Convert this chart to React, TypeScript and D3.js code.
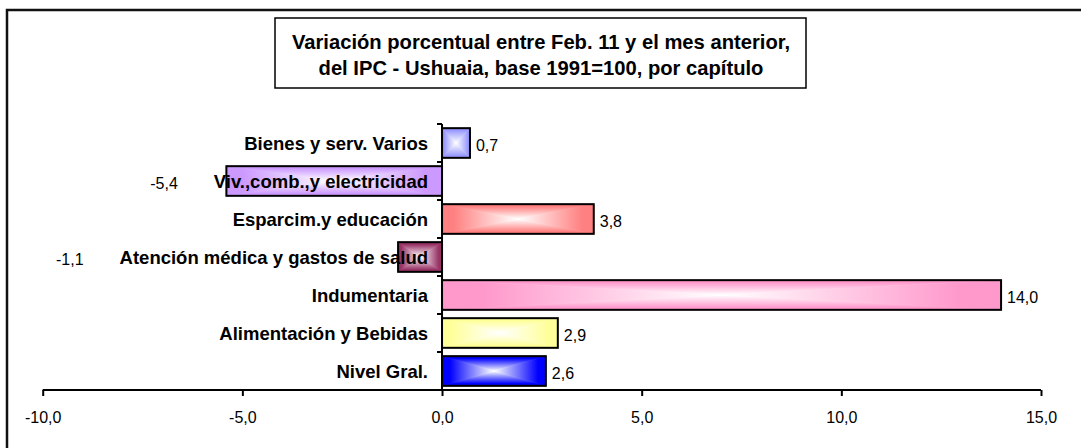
import React, { useRef, useEffect } from 'react';
import * as d3 from 'd3';

// datos del gráfico (de arriba hacia abajo)
const categories = [
  'Bienes y serv. Varios',
  'Viv.,comb.,y electricidad',
  'Esparcim.y educación',
  'Atención médica y gastos de salud',
  'Indumentaria',
  'Alimentación y Bebidas',
  'Nivel Gral.',
];
const values = [0.7, -5.4, 3.8, -1.1, 14.0, 2.9, 2.6];
const barColors = ['#9999ff', '#cc99ff', '#ff8080', '#993366', '#ff99cc', '#ffff99', '#0000ff'];
const xTicks = [-10, -5, 0, 5, 10, 15];
const titleLines = [
  'Variación porcentual entre Feb. 11 y el mes anterior,',
  'del IPC - Ushuaia, base 1991=100, por capítulo',
];

const FONT = '"Liberation Sans", Arial, Helvetica, sans-serif';
const W = 1081;
const H = 448;

const locale = d3.formatLocale({ decimal: ',', thousands: '.', grouping: [3], currency: ['$', ''], minus: '-' });
const fmt = locale.format('.1f');

const App = () => {
  const axisRef = useRef<SVGGElement>(null);
  const svgRef = useRef<SVGSVGElement>(null);

  const x = d3.scaleLinear().domain([-10, 15]).range([42.7, 1041]);
  const y = d3.scaleBand().domain(categories).range([124, 390]).paddingInner(0.22).paddingOuter(0.11);
  const step = y.step();
  const x0 = x(0);

  useEffect(() => {
    const xAxis = d3.axisBottom(x).tickValues(xTicks).tickSize(6).tickPadding(16).tickFormat((d) => fmt(d as number));
    const g = d3.select(axisRef.current).call(xAxis);
    g.select('.domain').attr('stroke', '#000').attr('stroke-width', 2).attr('d', `M${x(-10)},0H${x(15)}`);
    g.selectAll('.tick line').attr('stroke', '#000').attr('stroke-width', 2);
    g.selectAll('.tick text').attr('font-size', 16).attr('font-family', FONT).attr('fill', '#000');

    // etiquetas negativas a la izquierda del nombre de la categoría
    const svg = d3.select(svgRef.current);
    svg.selectAll<SVGTextElement, unknown>('.neg-label').each(function () {
      const i = +(this.getAttribute('data-i') as string);
      const cat = svg.select<SVGTextElement>(`.cat-${i}`).node();
      if (!cat) return;
      const start = cat.getBBox().x;
      const barEnd = x(values[i]);
      d3.select(this).attr('x', Math.min(start, barEnd) - 36);
    });
  }, []);

  const gradId = (i: number, k: string) => `g${i}${k}`;

  return (
    <svg ref={svgRef} width={W} height={H} style={{ position: 'absolute', left: 0, top: 0 }} fontFamily={FONT}>
      <defs>
        {barColors.map((c, i) => (
          <React.Fragment key={i}>
            {[
              ['l', 0, 1, 0, 0],
              ['r', 1, 0, 0, 0],
              ['t', 0, 0, 0, 1],
              ['b', 0, 0, 1, 0],
            ].map(([k, a, b, cc, d]) => (
              <linearGradient key={k as string} id={gradId(i, k as string)} x1={a} x2={b} y1={cc} y2={d}>
                <stop offset="0" stopColor={c} />
                <stop offset="0.15" stopColor={c} />
                <stop offset="1" stopColor="#fff" />
              </linearGradient>
            ))}
          </React.Fragment>
        ))}
      </defs>

      <rect x={7} y={10} width={1200} height={600} fill="#fff" stroke="#111" strokeWidth={2.5} />

      {/* título */}
      <rect x={275} y={18} width={531} height={70} fill="#fff" stroke="#000" strokeWidth={1.5} />
      {titleLines.map((t, i) => (
        <text key={i} x={541} y={49 + i * 26} textAnchor="middle" fontWeight="bold" fontSize={20.2}>
          {t}
        </text>
      ))}

      {/* barras */}
      {categories.map((cat, i) => {
        const v = values[i];
        const bx0 = Math.min(x0, x(v));
        const bx1 = Math.max(x0, x(v));
        const by0 = y(cat) as number;
        const by1 = by0 + y.bandwidth();
        const cx = (bx0 + bx1) / 2;
        const cy = (by0 + by1) / 2;
        const tri = (pts: string, k: string) => (
          <polygon points={pts} fill={`url(#${gradId(i, k)})`} stroke={`url(#${gradId(i, k)})`} strokeWidth={0.8} />
        );
        return (
          <g key={cat}>
            {tri(`${bx0},${by0} ${bx1},${by0} ${cx},${cy}`, 't')}
            {tri(`${bx0},${by1} ${bx1},${by1} ${cx},${cy}`, 'b')}
            {tri(`${bx0},${by0} ${bx0},${by1} ${cx},${cy}`, 'l')}
            {tri(`${bx1},${by0} ${bx1},${by1} ${cx},${cy}`, 'r')}
            <rect x={bx0} y={by0} width={bx1 - bx0} height={by1 - by0} fill="none" stroke="#000" strokeWidth={2} />
          </g>
        );
      })}

      {/* eje vertical */}
      <line x1={x0} x2={x0} y1={124} y2={390} stroke="#000" strokeWidth={2} />
      {d3.range(categories.length + 1).map((k) => (
        <line key={k} x1={x0 - 5} x2={x0} y1={124 + k * step} y2={124 + k * step} stroke="#000" strokeWidth={2} />
      ))}

      {/* eje horizontal */}
      <g ref={axisRef} transform="translate(0,390)" />

      {/* nombres de categorías */}
      {categories.map((cat, i) => (
        <text
          key={cat}
          className={`cat-${i}`}
          x={428}
          y={(y(cat) as number) + y.bandwidth() / 2}
          dy="0.36em"
          textAnchor="end"
          fontWeight="bold"
          fontSize={18.5}
        >
          {cat}
        </text>
      ))}

      {/* valores */}
      {categories.map((cat, i) => {
        const v = values[i];
        const cy = (y(cat) as number) + y.bandwidth() / 2;
        return v >= 0 ? (
          <text key={cat} x={x(v) + 6} y={cy + 2} dy="0.36em" fontSize={16}>
            {fmt(v)}
          </text>
        ) : (
          <text key={cat} className="neg-label" data-i={i} x={0} y={cy + 2} dy="0.36em" fontSize={16} textAnchor="end">
            {fmt(v)}
          </text>
        );
      })}
    </svg>
  );
};

export default App;
